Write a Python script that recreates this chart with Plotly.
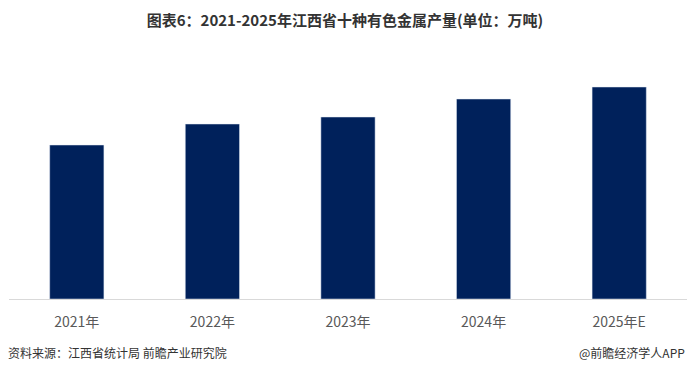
import plotly.graph_objects as go

years = ["2021年", "2022年", "2023年", "2024年", "2025年E"]
output = [154, 175, 182, 200, 212]

fig = go.Figure()
fig.add_trace(go.Bar(x=years, y=output, marker_color="#00215b", width=0.4,
                     hoverinfo="x+y"))

fig.update_layout(
    width=690, height=373,
    margin=dict(l=9, r=3, t=60, b=74),
    paper_bgcolor="white", plot_bgcolor="white",
    font=dict(family="Noto Sans CJK SC", color="#555555"),
    showlegend=False,
    title=dict(text="<b>图表6：2021-2025年江西省十种有色金属产量(单位：万吨)</b>",
               x=0.5, xanchor="center", y=0.945, yanchor="middle",
               font=dict(size=15, color="#333333", family="Noto Sans CJK SC")),
    xaxis=dict(showline=True, linecolor="#d9d9d9", linewidth=1, ticks="",
               ticklabelstandoff=10,
               tickfont=dict(size=14, color="#595959"), showgrid=False),
    yaxis=dict(range=[0, 239], visible=False, showgrid=False),
    annotations=[
        dict(text="资料来源：江西省统计局 前瞻产业研究院", xref="paper", yref="paper",
             x=-0.005, y=-0.225, xanchor="left", yanchor="middle", showarrow=False,
             font=dict(size=12, color="#333333")),
        dict(text="@前瞻经济学人APP", xref="paper", yref="paper",
             x=1.0, y=-0.225, xanchor="right", yanchor="middle", showarrow=False,
             font=dict(size=12, color="#333333")),
    ],
)

fig.write_html("out.html", config={"displayModeBar": False},
               post_script="document.body.style.margin='0';document.body.style.overflow='hidden';")
